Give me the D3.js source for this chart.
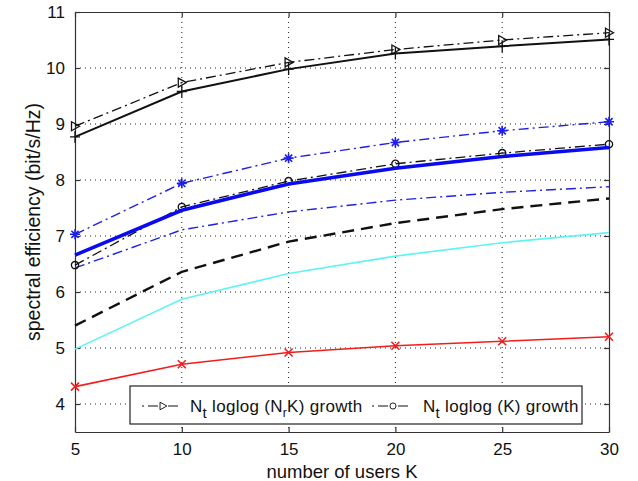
<!DOCTYPE html>
<html>
<head>
<meta charset="utf-8">
<script src="https://cdn.jsdelivr.net/npm/d3@7"></script>
<style>
  body { margin: 0; background: #fff; }
  svg { font-family: "Liberation Sans", Arial, sans-serif; }
</style>
</head>
<body>
<div id="chart"></div>
<script>
// number of users K
const users = [5, 10, 15, 20, 25, 30];
const xTicks = [5, 10, 15, 20, 25, 30];
const yTicks = [4, 5, 6, 7, 8, 9, 10, 11];

// series values
const nrkGrowth   = [8.96, 9.74, 10.10, 10.33, 10.50, 10.63]; // black dash-dot, triangles
const topSolid    = [8.77, 9.58, 9.98, 10.26, 10.39, 10.51];  // black solid, plus
const blueStar    = [7.03, 7.94, 8.39, 8.67, 8.88, 9.04];     // blue dash-dot, asterisk
const kGrowth     = [6.48, 7.52, 7.98, 8.29, 8.48, 8.64];     // black dash-dot, circles
const blueThick   = [6.66, 7.46, 7.93, 8.21, 8.42, 8.58];     // blue thick solid
const blueDashDot = [6.43, 7.11, 7.43, 7.64, 7.78, 7.88];     // blue thin dash-dot
const blackDashed = [5.40, 6.36, 6.90, 7.23, 7.48, 7.67];     // black thick dashed
const cyanLine    = [4.98, 5.87, 6.33, 6.64, 6.88, 7.06];     // cyan solid
const redCross    = [4.31, 4.71, 4.92, 5.04, 5.12, 5.20];     // red solid, x

const series = [
  {values: cyanLine, color: "#5ff3f3", width: 1.6, dash: null, marker: null},
  {values: redCross, color: "#f21d1d", width: 1.6, dash: null, marker: "x"},
  {values: blackDashed, color: "#111", width: 2.4, dash: "12,7", marker: null},
  {values: blueDashDot, color: "#1f1fe6", width: 1.4, dash: "10,4,2,4", marker: null},
  {values: kGrowth, color: "#111", width: 1.3, dash: "10,4,2,4", marker: "o"},
  {values: blueThick, color: "#0a0af0", width: 3.6, dash: null, marker: null},
  {values: blueStar, color: "#1f1fe6", width: 1.4, dash: "10,4,2,4", marker: "*"},
  {values: topSolid, color: "#111", width: 2, dash: null, marker: "+"},
  {values: nrkGrowth, color: "#111", width: 1.3, dash: "10,4,2,4", marker: ">"}
];

const width = 638, height = 481;
const marginLeft = 75, marginRight = 29, marginTop = 12, marginBottom = 49;

const svg = d3.select("#chart").append("svg")
  .attr("width", width).attr("height", height);

const x = d3.scaleLinear().domain([5, 30]).range([marginLeft, width - marginRight]);
const y = d3.scaleLinear().domain([3.5, 11]).range([height - marginBottom, marginTop]);

// dotted grid
svg.append("g").selectAll("line").data(xTicks.slice(1, -1)).join("line")
  .attr("x1", d => x(d)).attr("x2", d => x(d))
  .attr("y1", y(11)).attr("y2", y(3.5))
  .attr("stroke", "#222").attr("stroke-width", 1).attr("stroke-dasharray", "1,4");
svg.append("g").selectAll("line").data(yTicks.slice(0, -1)).join("line")
  .attr("x1", x(5)).attr("x2", x(30))
  .attr("y1", d => y(d)).attr("y2", d => y(d))
  .attr("stroke", "#222").attr("stroke-width", 1).attr("stroke-dasharray", "1,4");

// axes with inward ticks
const xAxis = svg.append("g")
  .attr("transform", `translate(0,${y(3.5)})`)
  .call(d3.axisBottom(x).tickValues(xTicks).tickSize(-5).tickPadding(11).tickSizeOuter(0));
const xAxisTop = svg.append("g")
  .attr("transform", `translate(0,${y(11)})`)
  .call(d3.axisTop(x).tickValues(xTicks).tickSize(-5).tickFormat("").tickSizeOuter(0));
const yAxis = svg.append("g")
  .attr("transform", `translate(${x(5)},0)`)
  .call(d3.axisLeft(y).tickValues(yTicks).tickSize(-5).tickPadding(10).tickSizeOuter(0));
const yAxisRight = svg.append("g")
  .attr("transform", `translate(${x(30)},0)`)
  .call(d3.axisRight(y).tickValues(yTicks).tickSize(-5).tickFormat("").tickSizeOuter(0));

for (const g of [xAxis, xAxisTop, yAxis, yAxisRight]) {
  g.selectAll("path.domain").attr("stroke", "#333").attr("stroke-width", 1.2);
  g.selectAll("line").attr("stroke", "#333").attr("stroke-width", 1.2);
  g.selectAll("text").attr("fill", "#111").style("font-size", "17px").attr("font-family", null);
}

// marker shapes
function markerPath(type) {
  const p = d3.path();
  if (type === "+") {
    p.moveTo(-5, 0); p.lineTo(5, 0); p.moveTo(0, -6); p.lineTo(0, 6);
  } else if (type === "x") {
    p.moveTo(-4, -4); p.lineTo(4, 4); p.moveTo(-4, 4); p.lineTo(4, -4);
  } else if (type === "*") {
    p.moveTo(-5, 0); p.lineTo(5, 0); p.moveTo(0, -5); p.lineTo(0, 5);
    p.moveTo(-3.6, -3.6); p.lineTo(3.6, 3.6); p.moveTo(-3.6, 3.6); p.lineTo(3.6, -3.6);
  } else if (type === ">") {
    p.moveTo(-3.5, -4.5); p.lineTo(4.5, 0); p.lineTo(-3.5, 4.5); p.closePath();
  } else if (type === "o") {
    p.arc(0, 0, 3.6, 0, 2 * Math.PI);
  }
  return p.toString();
}

const line = d3.line().x((d, i) => x(users[i])).y(d => y(d));

for (const s of series) {
  svg.append("path")
    .datum(s.values)
    .attr("d", line)
    .attr("fill", "none")
    .attr("stroke", s.color)
    .attr("stroke-width", s.width)
    .attr("stroke-dasharray", s.dash);
  if (s.marker) {
    svg.append("g").selectAll("path").data(s.values).join("path")
      .attr("transform", (d, i) => `translate(${x(users[i])},${y(d)})`)
      .attr("d", markerPath(s.marker))
      .attr("fill", "none")
      .attr("stroke", s.color)
      .attr("stroke-width", s.marker === "*" || s.marker === "x" ? 1.6 : 1.3);
  }
}

// axis labels
svg.append("text")
  .attr("x", (x(5) + x(30)) / 2).attr("y", 478)
  .attr("text-anchor", "middle").style("font-size", "18.5px").attr("fill", "#111")
  .text("number of users K");
svg.append("text")
  .attr("transform", `translate(40,${(y(3.5) + y(11)) / 2}) rotate(-90)`)
  .attr("text-anchor", "middle").style("font-size", "19.5px").attr("fill", "#111")
  .text("spectral efficiency (bit/s/Hz)");

// legend
const legend = svg.append("g");
legend.append("rect")
  .attr("x", 130).attr("y", 386).attr("width", 452).attr("height", 38)
  .attr("fill", "#fff").attr("stroke", "#222").attr("stroke-width", 1.2);

const legendItems = [
  {marker: ">", x0: 142, tx: 190, main: "loglog (N", sub: "r", tail: "K) growth"},
  {marker: "o", x0: 372, tx: 423, main: "loglog (K) growth", sub: null, tail: ""}
];
for (const it of legendItems) {
  const ly = 406;
  legend.append("line")
    .attr("x1", it.x0).attr("x2", it.x0 + 40).attr("y1", ly).attr("y2", ly)
    .attr("stroke", "#111").attr("stroke-width", 1.2).attr("stroke-dasharray", "2,4,10,4");
  legend.append("path")
    .attr("transform", `translate(${it.x0 + 21},${ly}) scale(0.85)`)
    .attr("d", markerPath(it.marker))
    .attr("fill", "#fff").attr("stroke", "#111").attr("stroke-width", 1.1);
  const t = legend.append("text")
    .attr("x", it.tx).attr("y", ly + 6)
    .style("font-size", "17px").style("letter-spacing", "0.3px").attr("fill", "#111");
  t.append("tspan").text("N");
  t.append("tspan").attr("dy", 6).style("font-size", "15px").text("t");
  t.append("tspan").attr("dy", -6).text(" " + it.main);
  if (it.sub) {
    t.append("tspan").attr("dy", 5).style("font-size", "12px").text(it.sub);
    t.append("tspan").attr("dy", -5).text(it.tail);
  }
}
</script>
</body>
</html>
